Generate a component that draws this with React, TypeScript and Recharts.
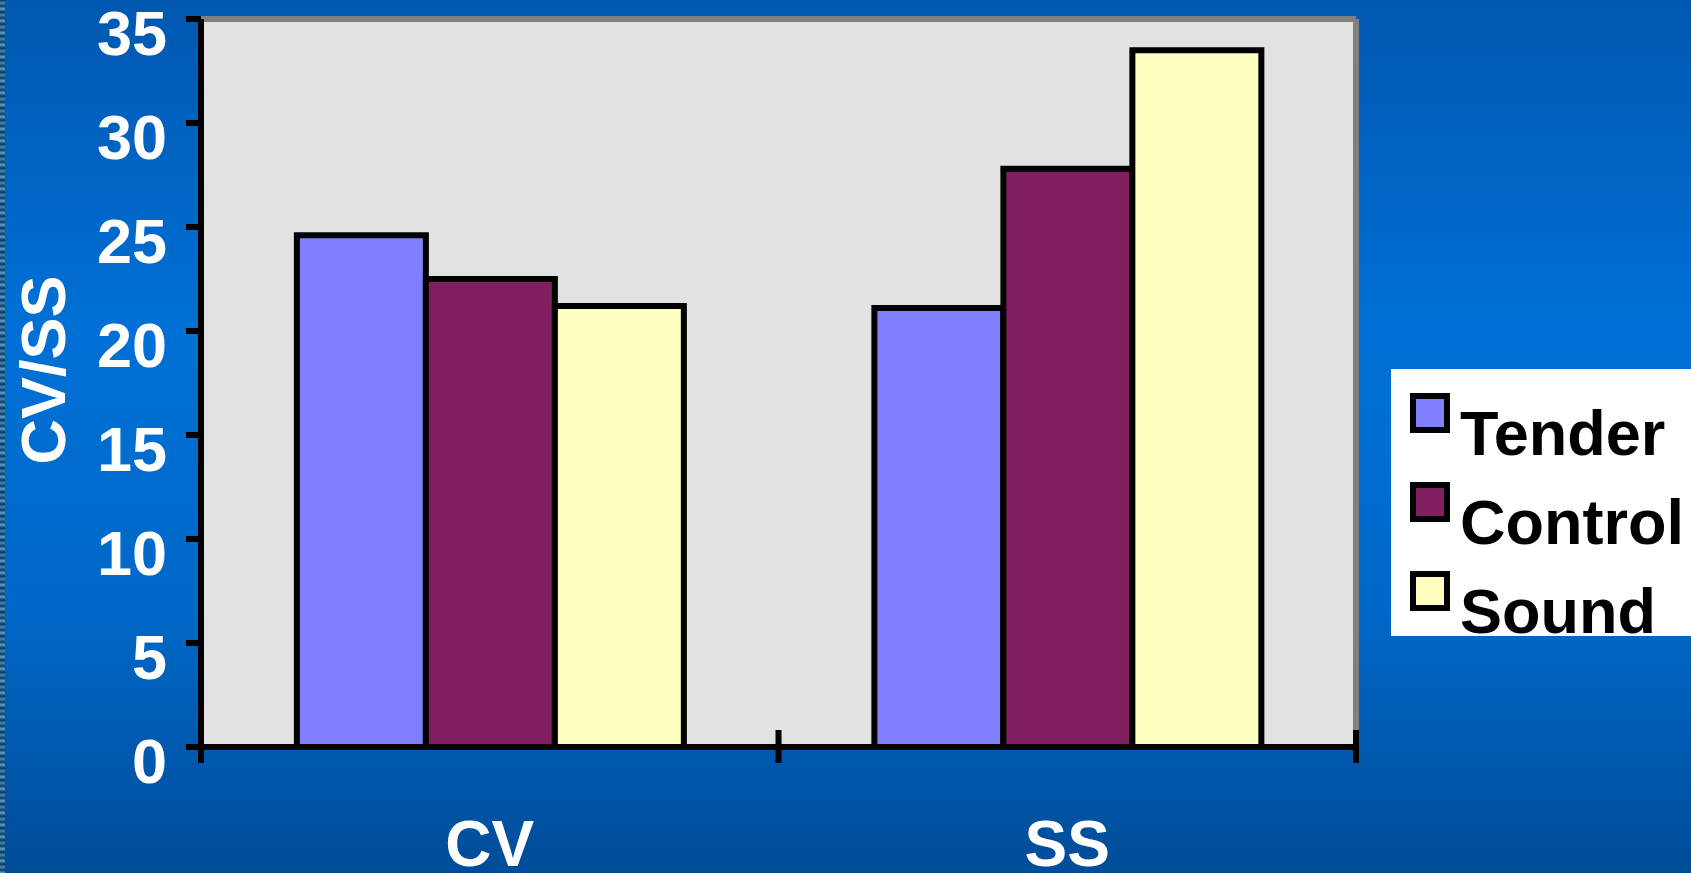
import { BarChart, Bar, XAxis, YAxis, CartesianGrid } from 'recharts';

const categories = ['CV', 'SS'];
const tender = [24.6, 21.1];
const control = [22.5, 27.8];
const sound = [21.2, 33.5];
const yTicks = [0, 5, 10, 15, 20, 25, 30, 35];

const series = [
  { key: 'tender', name: 'Tender', color: '#8080ff' },
  { key: 'control', name: 'Control', color: '#802060' },
  { key: 'sound', name: 'Sound', color: '#ffffc0' },
];

const data = categories.map((c, i) => ({
  name: c,
  tender: tender[i],
  control: control[i],
  sound: sound[i],
}));

const FONT = '"Liberation Sans", Arial, sans-serif';

const YTick = ({ x, y, payload }: any) => (
  <text x={x} y={y + 36} textAnchor="end" fill="#fff" fontSize={63} fontWeight="bold" fontFamily={FONT}>
    {payload.value}
  </text>
);

// category label plus Excel-style separator ticks between categories
const XTick = ({ x, y, payload, index, visibleTicksCount }: any) => {
  const half = payload.offset || 0;
  const left = x - half;
  const right = x + half;
  return (
    <g>
      <line x1={left} x2={left} y1={y - 17} y2={y + 16} stroke="#000" strokeWidth={6} />
      {index === visibleTicksCount - 1 && (
        <line x1={right} x2={right} y1={y - 17} y2={y + 16} stroke="#000" strokeWidth={6} />
      )}
      <text x={x} y={y + 119} textAnchor="middle" fill="#fff" fontSize={64} fontWeight="bold" fontFamily={FONT}>
        {payload.value}
      </text>
    </g>
  );
};

const YLabel = ({ viewBox }: any) => {
  const cx = 42;
  const cy = viewBox ? viewBox.y + viewBox.height / 2 - 13 : 369;
  return (
    <text
      x={cx + 23}
      y={cy}
      transform={`rotate(-90 ${cx + 23} ${cy})`}
      textAnchor="middle"
      fill="#fff"
      fontSize={63}
      fontWeight="bold"
      fontFamily={FONT}
    >
      CV/SS
    </text>
  );
};

export default function App() {
  return (
    <div
      style={{
        position: 'absolute',
        left: 0,
        top: 0,
        width: 1691,
        height: 873,
        overflow: 'hidden',
        background: 'linear-gradient(180deg, #0058b0 0%, #0070d6 38%, #0068c8 70%, #004c98 100%)',
        fontFamily: FONT,
      }}
    >
      <div
        style={{
          position: 'absolute',
          left: 0,
          top: 0,
          width: 5,
          height: 873,
          background: 'repeating-linear-gradient(180deg, #0b2f4a 0px, #3d8cc4 3px, #123c5c 6px, #5aa4d8 9px, #0b2f4a 12px)',
        }}
      />
      <BarChart
        width={1691}
        height={873}
        data={data}
        margin={{ top: 18, right: 334, bottom: 0, left: 0 }}
        barCategoryGap="16.6%"
        barGap={0}
      >
        <CartesianGrid horizontal={false} vertical={false} fill="#e2e2e2" />
        <XAxis
          xAxisId="top"
          orientation="top"
          dataKey="name"
          height={1}
          tick={false}
          tickLine={false}
          axisLine={{ stroke: '#808080', strokeWidth: 6 }}
        />
        <YAxis
          yAxisId="right"
          orientation="right"
          type="number"
          domain={[0, 35]}
          width={1}
          tick={false}
          tickLine={false}
          axisLine={{ stroke: '#808080', strokeWidth: 6 }}
        />
        <XAxis
          dataKey="name"
          height={126}
          tickSize={0}
          tickMargin={0}
          tickLine={false}
          axisLine={{ stroke: '#000', strokeWidth: 6 }}
          tick={<XTick />}
          interval={0}
        />
        <YAxis
          width={201}
          domain={[0, 35]}
          ticks={yTicks}
          interval={0}
          tickSize={15}
          tickMargin={19}
          tickLine={{ stroke: '#000', strokeWidth: 6 }}
          axisLine={{ stroke: '#000', strokeWidth: 6 }}
          tick={<YTick />}
          label={<YLabel />}
        />
        {series.map((s) => (
          <Bar
            key={s.key}
            dataKey={s.key}
            name={s.name}
            fill={s.color}
            stroke="#000"
            strokeWidth={6}
            isAnimationActive={false}
          />
        ))}
      </BarChart>
      <div
        style={{
          position: 'absolute',
          left: 1391,
          top: 369,
          width: 300,
          height: 267,
          background: '#fff',
        }}
      >
        {series.map((s, i) => (
          <div key={s.key}>
            <div
              style={{
                position: 'absolute',
                left: 19,
                top: 24 + i * 89,
                width: 28,
                height: 28,
                border: '6px solid #000',
                background: s.color,
              }}
            />
            <div
              style={{
                position: 'absolute',
                left: 69,
                top: 33 + i * 89,
                fontSize: 63,
                lineHeight: '63px',
                fontWeight: 'bold',
                color: '#000',
                whiteSpace: 'nowrap',
              }}
            >
              {s.name}
            </div>
          </div>
        ))}
      </div>
    </div>
  );
}
